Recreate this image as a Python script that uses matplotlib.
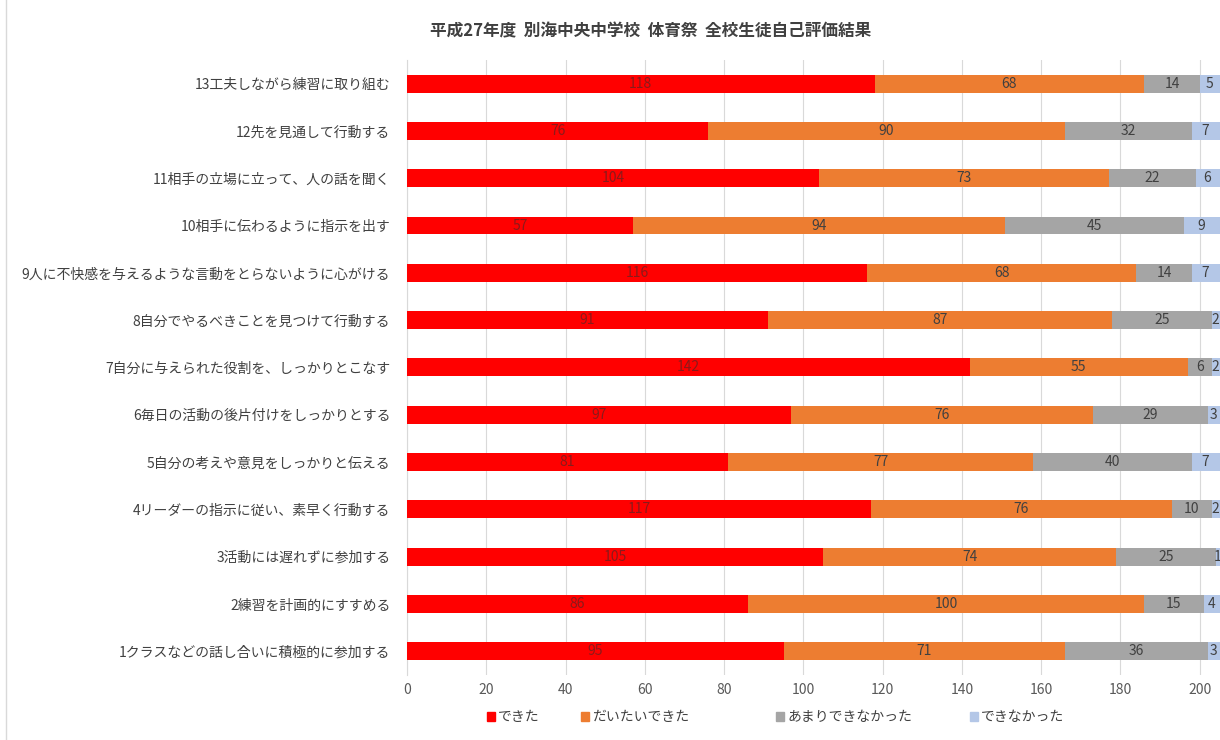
import matplotlib
matplotlib.use("Agg")
import matplotlib.pyplot as plt
from matplotlib.patches import Patch
import numpy as np

plt.rcParams["font.family"] = ["Noto Sans CJK JP", "DejaVu Sans"]

items = [
    "1クラスなどの話し合いに積極的に参加する",
    "2練習を計画的にすすめる",
    "3活動には遅れずに参加する",
    "4リーダーの指示に従い、素早く行動する",
    "5自分の考えや意見をしっかりと伝える",
    "6毎日の活動の後片付けをしっかりとする",
    "7自分に与えられた役割を、しっかりとこなす",
    "8自分でやるべきことを見つけて行動する",
    "9人に不快感を与えるような言動をとらないように心がける",
    "10相手に伝わるように指示を出す",
    "11相手の立場に立って、人の話を聞く",
    "12先を見通して行動する",
    "13工夫しながら練習に取り組む",
]
dekita = [95, 86, 105, 117, 81, 97, 142, 91, 116, 57, 104, 76, 118]
daitai = [71, 100, 74, 76, 77, 76, 55, 87, 68, 94, 73, 90, 68]
amari = [36, 15, 25, 10, 40, 29, 6, 25, 14, 45, 22, 32, 14]
dekinai = [3, 4, 1, 2, 7, 3, 2, 2, 7, 9, 6, 7, 5]

series = [
    ("できた", dekita, "#ff0000", "#8b1a1a"),
    ("だいたいできた", daitai, "#ed7d31", "#404040"),
    ("あまりできなかった", amari, "#a5a5a5", "#404040"),
    ("できなかった", dekinai, "#b4c7e7", "#404040"),
]
legend_x = [0.399, 0.476, 0.636, 0.795]  # left edge of each legend entry

fig = plt.figure(figsize=(12.2, 7.4), dpi=100)
ax = fig.add_axes([0.3336, 0.088, 0.666, 0.831])

y = np.arange(len(items))
left = np.zeros(len(items))
for name, vals, color, tcolor in series:
    vals = np.array(vals)
    bars = ax.barh(y, vals, left=left, height=0.38, color=color, label=name, zorder=3)
    for b, v in zip(bars, vals):
        ax.text(b.get_x() + b.get_width() / 2, b.get_y() + b.get_height() / 2, str(v),
                ha="center", va="center", fontsize=10, color=tcolor, zorder=4)
    left += vals

ax.set_xlim(0, 205)
ax.set_ylim(-0.5, len(items) - 0.5)
ax.set_xticks(range(0, 201, 20))
ax.set_yticks(y)
ax.set_yticklabels(items, fontsize=10, color="#404040")
ax.tick_params(axis="x", labelsize=10, colors="#595959", length=0, pad=6)
ax.tick_params(axis="y", length=0, pad=12)
ax.grid(axis="x", color="#d9d9d9", linewidth=0.8, zorder=0)
for s in ["top", "right", "bottom"]:
    ax.spines[s].set_visible(False)
ax.spines["left"].set_color("#d9d9d9")

fig.suptitle("平成27年度  別海中央中学校  体育祭  全校生徒自己評価結果", x=0.533, y=0.97,
             fontsize=12, fontweight="bold", color="#404040")

# legend entries placed one by one, like the spreadsheet legend
for (name, _, color, _), lx in zip(series, legend_x):
    fig.legend(handles=[Patch(color=color, label=name)], loc="center left",
               bbox_to_anchor=(lx, 0.031), frameon=False, fontsize=10,
               handlelength=0.6, handleheight=0.6, handletextpad=0.2,
               borderaxespad=0, borderpad=0, labelcolor="#404040")

# faint outer chart border on the left
fig.add_artist(plt.Line2D([0.005, 0.005], [0.0, 1.0], color="#d9d9d9", linewidth=1))

fig.savefig("out.png", dpi=100)
plt.close(fig)
